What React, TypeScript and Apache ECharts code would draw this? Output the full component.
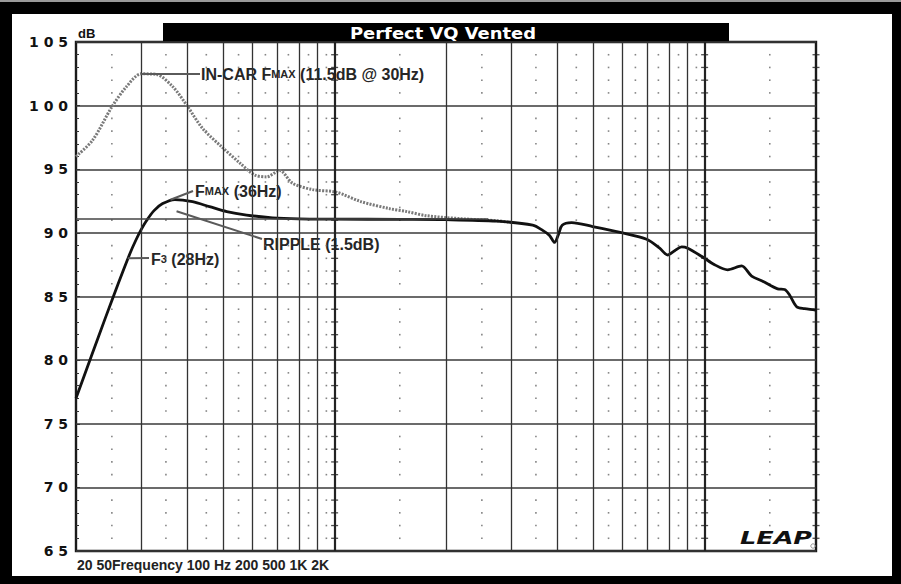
import React, { useEffect, useRef } from 'react';
import * as echarts from 'echarts';

const TITLE = 'Perfect VQ Vented';
const X_LABEL = '20 50Frequency 100 Hz 200 500 1K 2K';
const Y_UNIT = 'dB';
const LOGO = 'LEAP';
const Y_MIN = 65;
const Y_MAX = 105;
const Y_STEP = 5;
const X_MIN = 20;
const X_MAX = 2000;

const GRID_FREQS = [30, 40, 50, 60, 70, 80, 90, 200, 300, 400, 500, 600, 700, 800, 900];
const DECADE_FREQS = [100, 1000];
const DOT_FREQS = [25, 35, 45, 55, 65, 75, 85, 95, 150, 250, 350, 450, 550, 650, 750, 850, 950, 1500];

const SOLID_FREQ = [20, 22, 24, 26, 28, 29, 30, 31, 32.5, 34.3, 37, 41.3, 45.9, 51.1, 57.8, 68, 80, 100, 150, 200, 274, 343, 365, 381, 393, 403, 412, 437, 498, 600, 697, 756, 795, 830, 867, 900, 988, 1064, 1154, 1259, 1340, 1435, 1575, 1645, 1698, 1773, 1863, 1982, 2000];
const SOLID_DB = [77.0, 80.3, 83.3, 86.0, 88.4, 89.4, 90.25, 90.95, 91.75, 92.3, 92.62, 92.45, 92.06, 91.67, 91.4, 91.18, 91.1, 91.08, 91.06, 91.04, 90.92, 90.6, 90.2, 89.8, 89.25, 89.9, 90.6, 90.8, 90.5, 90.0, 89.5, 88.8, 88.26, 88.6, 88.9, 88.8, 88.1, 87.5, 87.1, 87.4, 86.6, 86.2, 85.6, 85.55, 85.1, 84.2, 84.05, 83.94, 83.9];

const INCAR_FREQ = [20, 22.2, 25, 27.4, 30, 33, 36.5, 39.8, 44, 49.8, 55.4, 60.8, 65.5, 71, 77, 87.2, 101, 118, 141, 157, 177, 218, 274, 300];
const INCAR_DB = [96.0, 97.3, 99.9, 101.5, 102.5, 102.45, 101.5, 100.05, 98.2, 96.7, 95.5, 94.55, 94.4, 94.9, 93.9, 93.4, 93.2, 92.45, 91.9, 91.67, 91.35, 91.12, 90.95, 90.82];

const RIPPLE_DB = 91.1;
const RIPPLE_END_FREQ = 260;

const INCAR_PEAK = [30, 102.5];
const FMAX_POINT = [36, 92.6];
const RIPPLE_POINT = [37.4, 91.7];
const F3_POINT = [27.6, 88.0];

export default function App() {
  const ref = useRef<HTMLDivElement>(null);

  useEffect(() => {
    if (!ref.current) return;
    const chart = echarts.init(ref.current, undefined, { renderer: 'svg' });

    const rows: number[] = [];
    for (let d = Y_MIN + 1; d < Y_MAX; d++) if (d % Y_STEP !== 0) rows.push(d);

    const dots: number[][] = [];
    DOT_FREQS.forEach((f) => rows.forEach((d) => dots.push([f, d])));
    const plus: number[][] = [];
    DECADE_FREQS.concat([X_MAX]).forEach((f) => rows.forEach((d) => plus.push([f, d])));

    const solid = SOLID_FREQ.map((f, i) => [f, SOLID_DB[i]]);
    const incar = INCAR_FREQ.map((f, i) => [f, INCAR_DB[i]]);

    const leaderStyle = { color: '#5a5a5a', width: 2, type: 'solid' as const };
    const txtFont = '"Liberation Sans", Arial, sans-serif';

    const gridLines: any[] = GRID_FREQS.map((f) => ({ xAxis: f }));
    DECADE_FREQS.forEach((f) => gridLines.push({ xAxis: f, lineStyle: { color: '#222', width: 2.2, type: 'solid' } }));
    gridLines.push([
      { coord: [X_MIN, RIPPLE_DB], lineStyle: { color: '#444', width: 1.6, type: 'solid' } },
      { coord: [RIPPLE_END_FREQ, RIPPLE_DB] },
    ]);

    const leaders: any[] = [
      [{ coord: INCAR_PEAK, lineStyle: leaderStyle }, { x: 200, y: 74 }],
      [{ coord: FMAX_POINT, lineStyle: leaderStyle }, { x: 193, y: 191 }],
      [{ coord: RIPPLE_POINT, lineStyle: leaderStyle }, { x: 262, y: 239 }],
      [{ coord: F3_POINT, lineStyle: leaderStyle }, { x: 149, y: 258 }],
    ];

    const richA = { fontFamily: txtFont, fontWeight: 'bold', fontSize: 16, fill: '#262626' };
    const richB = { fontFamily: txtFont, fontWeight: 'bold', fontSize: 11, fill: '#262626' };

    chart.setOption({
      animation: false,
      backgroundColor: '#fff',
      grid: {
        left: 76,
        top: 42,
        width: 740,
        height: 509,
        show: true,
        borderColor: '#1a1a1a',
        borderWidth: 2.4,
        backgroundColor: '#fff',
      },
      xAxis: {
        type: 'log',
        logBase: 10,
        min: X_MIN,
        max: X_MAX,
        axisLine: { show: false },
        axisTick: { show: false },
        axisLabel: { show: false },
        splitLine: { show: false },
      },
      yAxis: {
        type: 'value',
        min: Y_MIN,
        max: Y_MAX,
        interval: Y_STEP,
        axisLine: { show: false },
        axisLabel: {
          formatter: (v: number) => String(v).split('').join(' '),
          fontFamily: '"DejaVu Sans", sans-serif',
          fontWeight: 'bold',
          fontSize: 14,
          color: '#111',
          margin: 8,
        },
        axisTick: { show: true, inside: true, length: 4, lineStyle: { color: '#333' } },
        minorTick: { show: true, splitNumber: 5, length: 3, lineStyle: { color: '#333' } },
        splitLine: { show: true, lineStyle: { color: '#3a3a3a', width: 1.5 } },
      },
      series: [
        {
          type: 'scatter',
          name: 'dots',
          data: dots,
          symbol: 'rect',
          symbolSize: 1.6,
          itemStyle: { color: '#666' },
          silent: true,
          z: 1,
          markLine: {
            silent: true,
            symbol: ['none', 'none'],
            label: { show: false },
            emphasis: { disabled: true },
            lineStyle: { color: '#333', width: 1.3, type: 'solid' },
            data: gridLines,
          },
        },
        {
          type: 'scatter',
          name: 'ticks',
          data: plus,
          symbol: 'rect',
          symbolSize: [7, 1.3],
          itemStyle: { color: '#222' },
          silent: true,
          z: 1,
        },
        {
          type: 'line',
          name: 'In-car',
          data: incar,
          showSymbol: false,
          smooth: 0.3,
          lineStyle: { color: '#7a7a7a', width: 3, type: [2, 1.3] },
          silent: true,
          z: 3,
        },
        {
          type: 'line',
          name: 'Response',
          data: solid,
          showSymbol: false,
          smooth: 0.3,
          lineStyle: { color: '#111', width: 2.8 },
          silent: true,
          z: 4,
          markLine: {
            silent: true,
            symbol: ['none', 'none'],
            label: { show: false },
            emphasis: { disabled: true },
            data: leaders,
          },
        },
      ],
      graphic: [
        { type: 'rect', shape: { x: 0, y: 0, width: 901, height: 14 }, style: { fill: '#000' } },
        { type: 'rect', shape: { x: 0, y: 0, width: 901, height: 2 }, style: { fill: '#9a9a9a' } },
        { type: 'rect', shape: { x: 0, y: 576, width: 901, height: 8 }, style: { fill: '#000' } },
        { type: 'rect', shape: { x: 0, y: 2, width: 12, height: 582 }, style: { fill: '#000' } },
        { type: 'rect', shape: { x: 892, y: 2, width: 9, height: 582 }, style: { fill: '#000' } },
        { type: 'rect', shape: { x: 163, y: 23, width: 566, height: 19 }, style: { fill: '#000' } },
        {
          type: 'text',
          x: 443,
          y: 33,
          scaleX: 1.12,
          style: { text: TITLE, font: 'bold 16px "DejaVu Sans", sans-serif', fill: '#fff', align: 'center', verticalAlign: 'middle' },
        },
        {
          type: 'text',
          x: 78,
          y: 33,
          style: { text: Y_UNIT, font: 'bold 13px "Liberation Sans", Arial, sans-serif', fill: '#111', verticalAlign: 'middle' },
        },
        {
          type: 'text',
          x: 77,
          y: 565,
          style: { text: X_LABEL, font: 'bold 14px "Liberation Sans", Arial, sans-serif', fill: '#222', verticalAlign: 'middle' },
        },
        {
          type: 'text',
          x: 740,
          y: 547,
          scaleX: 1.5,
          style: { text: LOGO, font: 'italic bold 17px "DejaVu Sans", sans-serif', fill: '#111', verticalAlign: 'bottom' },
        },
        { type: 'circle', shape: { cx: 813, cy: 546, r: 2.2 }, style: { fill: 'none', stroke: '#999', lineWidth: 1 } },
        {
          type: 'text',
          x: 201,
          y: 74,
          style: { text: '{a|IN-CAR F}{b|MAX}{a| (11.5dB @ 30Hz)}', rich: { a: richA, b: richB }, verticalAlign: 'middle' },
        },
        {
          type: 'text',
          x: 195,
          y: 191,
          style: { text: '{a|F}{b|MAX}{a| (36Hz)}', rich: { a: richA, b: richB }, verticalAlign: 'middle' },
        },
        {
          type: 'text',
          x: 263,
          y: 244,
          style: { text: '{a|RIPPLE (1.5dB)}', rich: { a: richA }, verticalAlign: 'middle' },
        },
        {
          type: 'text',
          x: 151,
          y: 259,
          style: { text: '{a|F}{b|3}{a| (28Hz)}', rich: { a: richA, b: richB }, verticalAlign: 'middle' },
        },
      ],
    });

    return () => chart.dispose();
  }, []);

  return <div ref={ref} style={{ position: 'fixed', left: 0, top: 0, width: 901, height: 584 }} />;
}
